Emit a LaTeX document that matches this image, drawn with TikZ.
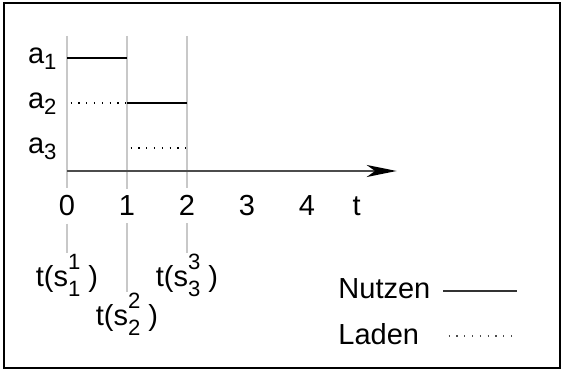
\documentclass[tikz,border=0pt]{standalone}
\usepackage{fontspec}
\setmainfont{Liberation Sans}
\usetikzlibrary{arrows.meta}
\definecolor{guidegray}{RGB}{200,200,200}
\tikzset{busy/.style={line width=0.5pt},
  load/.style={line width=0.7pt, dash pattern=on 0.6pt off 3.1pt, dash phase=2pt},
  guide/.style={draw=guidegray, line width=0.5pt},
  lbl/.style={anchor=base, inner sep=3.3pt},
  evt/.style={anchor=base, inner sep=0.5pt}}
\newcommand{\lo}[1]{\raisebox{-2.8pt}{\fontsize{10.5}{10.5}\selectfont #1}}
\newcommand{\tsl}[2]{t(s\rlap{\raisebox{7.6pt}{\fontsize{10.5}{10.5}\selectfont #1}}\raisebox{-5.2pt}{\fontsize{10.5}{10.5}\selectfont #2}\ )}

\begin{document}
\begin{tikzpicture}[font=\fontsize{13.75}{16}\selectfont]
  \useasboundingbox (-1.1167,-3.3167) rectangle (8.25,2.85);
  \draw[line width=0.95pt] (-1.05,-3.283) rectangle (8.217,2.8);
  % time labels
  \foreach \x in {0,...,4}
    \node[lbl] (l\x) at (\x,-0.75) {\x};
  \node[lbl] (lt) at (4.828,-0.75) {t};
  \node[evt] (s1) at (0,-1.917) {\tsl{1}{1}};
  \node[evt] (s2) at (1,-2.567) {\tsl{2}{2}};
  \node[evt] (s3) at (2,-1.917) {\tsl{3}{3}};
  % guides
  \foreach \x/\s in {0/s1,1/s2,2/s3}{
    \coordinate (g\x) at (\x,2.25);
    \draw[guide] (g\x) -- (l\x.north);
    \draw[guide] (l\x.south) -- (\s.north);}
  % rows
  \foreach \i/\y in {1/1.883,2/1.133,3/0.383}
    \node[anchor=mid east, inner sep=0pt] (a\i) at (-0.167,\y) {a\lo{\i}};
  \draw[busy] (0,1.883) -- (1,1.883);
  \draw[load] (0,1.133) -- (1,1.133);
  \draw[busy] (1,1.133) -- (2,1.133);
  \draw[load] (1,0.383) -- (2,0.383);
  % axis
  \coordinate (o) at (0,0);
  \coordinate (tip) at (5.495,0);
  \draw[line width=0.8pt, draw=black!70, -{Stealth[length=0.5cm, width=0.2cm, inset=0.14cm, color=black]}] (o) -- (tip);
  % legend
  \node[anchor=base west, inner sep=0pt] (nutzen) at (4.517,-2.117) {Nutzen};
  \node[anchor=base west, inner sep=0pt] (laden) at (4.517,-2.888) {Laden};
  \coordinate (n1) at (6.267,-2);
  \coordinate (n2) at (7.5,-2);
  \coordinate (d1) at (6.3,-2.75);
  \coordinate (d2) at (7.5,-2.75);
  \draw[busy, draw=black!80] (n1) -- (n2);
  \draw[load, draw=black!70] (d1) -- (d2);
\end{tikzpicture}
\end{document}
